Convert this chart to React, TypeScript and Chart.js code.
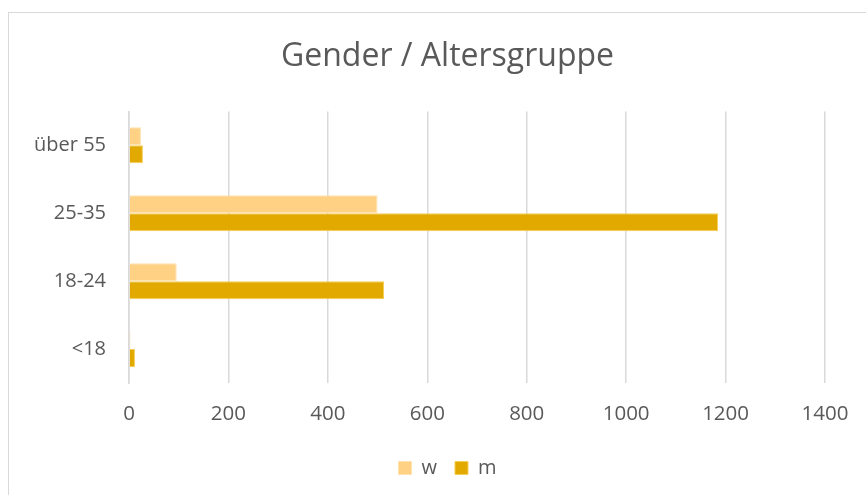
import React, { useEffect, useRef } from 'react';
import { Chart, registerables } from 'chart.js';

Chart.register(...registerables);

const categories = ['über 55', '25-35', '18-24', '<18'];
const seriesNames = ['w', 'm'];
const wValues = [24, 500, 96, 3];
const mValues = [28, 1185, 513, 12];
const xMin = 0;
const xMax = 1400;
const xStep = 200;
const titleText = 'Gender / Altersgruppe';

const TEXT = '#595959';
const GRID = '#D9D9D9';
const FONT = "'Open Sans', sans-serif";

const shiftPlugin = {
  id: 'shiftCenter',
  afterLayout(chart: any) {
    const d = 35;
    if (chart.titleBlock) {
      chart.titleBlock.left += d;
      chart.titleBlock.right += d;
    }
    if (chart.legend) {
      chart.legend.left += d;
      chart.legend.right += d;
    }
  },
};

export default function App() {
  const ref = useRef<HTMLCanvasElement | null>(null);

  useEffect(() => {
    if (!ref.current) return;
    const chart = new Chart(ref.current, {
      type: 'bar',
      data: {
        labels: categories,
        datasets: [
          {
            label: seriesNames[0],
            data: wValues,
            backgroundColor: '#FFD185',
            borderColor: '#FFE2AE',
            borderWidth: 1,
          },
          {
            label: seriesNames[1],
            data: mValues,
            backgroundColor: '#E2AA00',
            borderColor: '#F7CE55',
            borderWidth: 1,
          },
        ],
      },
      options: {
        indexAxis: 'y',
        animation: false,
        responsive: false,
        maintainAspectRatio: false,
        layout: { padding: { left: 0, right: 41, top: 0, bottom: 7 } },
        datasets: {
          bar: { categoryPercentage: 0.53, barPercentage: 1 },
        },
        scales: {
          x: {
            type: 'linear',
            min: xMin,
            max: xMax,
            ticks: {
              stepSize: xStep,
              color: TEXT,
              font: { family: FONT, size: 20.5 },
              padding: 19,
              callback: (v: any) => String(v),
            },
            grid: { color: GRID, lineWidth: 1.5, drawTicks: false },
            border: { display: false },
            afterFit(scale: any) {
              scale.height = 57;
              scale.paddingLeft = 0;
              scale.paddingRight = 0;
            },
          },
          y: {
            type: 'category',
            ticks: {
              color: TEXT,
              font: { family: FONT, size: 20 },
              padding: 23,
            },
            grid: { display: false, drawTicks: false },
            border: { display: true, color: GRID, width: 1.5 },
            afterFit(scale: any) {
              scale.width = 129;
              scale.paddingTop = 0;
              scale.paddingBottom = 0;
            },
          },
        },
        plugins: {
          title: {
            display: true,
            text: titleText,
            color: TEXT,
            font: { family: FONT, size: 32, weight: 'normal' },
            padding: { top: 38, bottom: 35 },
          },
          legend: {
            position: 'bottom',
            labels: {
              color: TEXT,
              font: { family: FONT, size: 20 },
              boxWidth: 13,
              boxHeight: 13,
              padding: 18,
            },
          },
          tooltip: { enabled: false },
        },
      },
      plugins: [shiftPlugin],
    });
    return () => chart.destroy();
  }, []);

  return (
    <div>
      <div
        style={{
          position: 'fixed',
          left: 8,
          top: 12,
          width: 900,
          height: 600,
          border: '1px solid #D9D9D9',
          boxSizing: 'border-box',
          background: '#FFFFFF',
        }}
      />
      <canvas
        ref={ref}
        width={866}
        height={495}
        style={{ position: 'fixed', left: 0, top: 0, width: 866, height: 495 }}
      />
    </div>
  );
}
